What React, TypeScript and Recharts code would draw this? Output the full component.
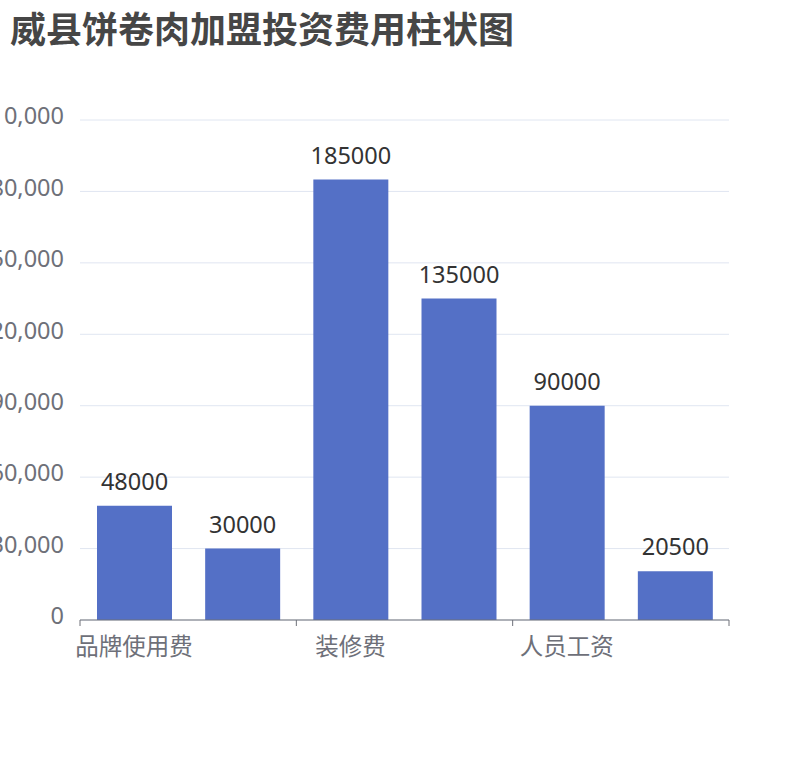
import React from "react";
import { BarChart, Bar, XAxis, YAxis, CartesianGrid, LabelList } from "recharts";

const categories = ["品牌使用费", "加盟保证金", "装修费", "设备费", "人员工资", "其他费用"];
const costs = [48000, 30000, 185000, 135000, 90000, 20500];
const yTicks = [0, 30000, 60000, 90000, 120000, 150000, 180000, 210000];

const data = categories.map((name, i) => ({ name, value: costs[i] }));

const W = 810;
const H = 760;
const M = { top: 120, right: 81, bottom: 110, left: 0 };
const Y_W = 80;
const STEP = (W - M.left - M.right - Y_W) / categories.length;
const FONT = '"Noto Sans", "Noto Sans CJK SC", sans-serif';
const FS = 23.5;

function XTick(props: any) {
  const { x, y, payload } = props;
  const left = x - STEP / 2;
  const last = payload.index === categories.length - 2;
  return (
    <g>
      <line x1={left} x2={left} y1={y} y2={y + 6} stroke="#6E7079" />
      {last && (
        <line x1={x + STEP * 1.5} x2={x + STEP * 1.5} y1={y} y2={y + 6} stroke="#6E7079" />
      )}
      <text x={x} y={y + 35} textAnchor="middle" fill="#6E7079" fontSize={FS} fontFamily={FONT}>
        {payload.value}
      </text>
    </g>
  );
}

export default function App() {
  return (
    <div style={{ position: "absolute", left: 0, top: 0, width: W, height: H, background: "#fff" }}>
      <div
        style={{
          position: "absolute",
          left: 10,
          top: 12,
          fontSize: 36,
          lineHeight: "36px",
          fontWeight: "bold",
          color: "#464646",
          fontFamily: FONT,
          whiteSpace: "nowrap",
        }}
      >
        威县饼卷肉加盟投资费用柱状图
      </div>
      <BarChart width={W} height={H} data={data} margin={M}>
        <CartesianGrid vertical={false} stroke="#E0E6F1" />
        <XAxis
          dataKey="name"
          interval={1}
          tick={<XTick />}
          tickLine={false}
          tickSize={0}
          tickMargin={0}
          stroke="#6E7079"
        />
        <YAxis
          width={Y_W}
          domain={[0, 210000]}
          ticks={yTicks}
          axisLine={false}
          tickLine={false}
          tickSize={0}
          tickMargin={16}
          tick={{ fill: "#6E7079", fontSize: FS, fontFamily: FONT, dy: -4 }}
          tickFormatter={(v: number) => v.toLocaleString("en-US")}
        />
        <Bar dataKey="value" fill="#5470C6" barSize={75} isAnimationActive={false}>
          <LabelList
            dataKey="value"
            position="top"
            offset={16}
            fill="#333"
            fontSize={FS}
            fontFamily={FONT}
          />
        </Bar>
      </BarChart>
    </div>
  );
}
